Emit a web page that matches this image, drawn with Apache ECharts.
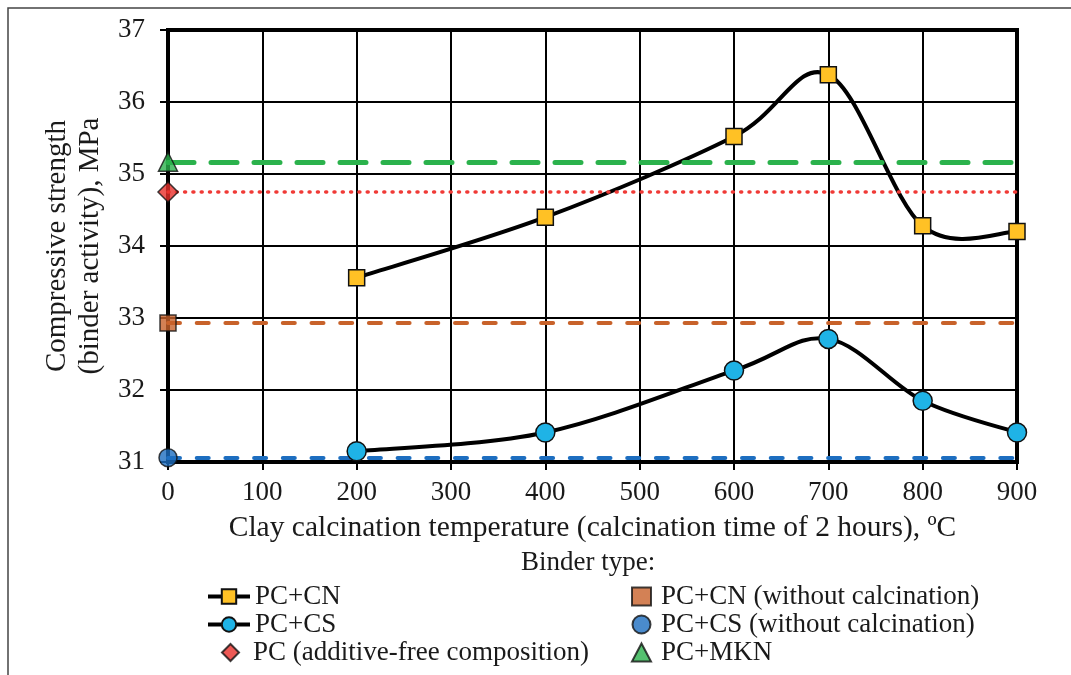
<!DOCTYPE html>
<html>
<head>
<meta charset="utf-8">
<script src="https://cdn.jsdelivr.net/npm/echarts@6/dist/echarts.min.js"></script>
<style>
  html, body { margin: 0; padding: 0; background: #fff; }
  #chart { width: 1071px; height: 675px; }
</style>
</head>
<body>
<div id="chart"></div>
<script>
// calcination temperature, degC
const temps = [200, 400, 600, 700, 800, 900]
// compressive strength, MPa
const pcCn = [33.56, 34.4, 35.52, 36.38, 34.28, 34.2]
const pcCs = [31.15, 31.41, 32.27, 32.71, 31.85, 31.41]
// reference compositions (plotted at 0 degC)
const pcCnRaw = 32.93
const pcCsRaw = 31.06
const pcPlain = 34.75
const pcMkn = 35.17

const FONT = 'Liberation Serif'
const txt = { fontFamily: FONT, fontSize: 27, color: '#1a1a1a' }

function pairs(xs, ys) {
  return xs.map((x, i) => [x, ys[i]])
}

// excel-like smoothed curve (cardinal spline) through the points, in pixels
function splinePath(api, xs, ys) {
  const p = xs.map((x, i) => api.coord([x, ys[i]]))
  let d = 'M' + p[0][0] + ' ' + p[0][1]
  for (let i = 0; i < p.length - 1; i++) {
    const a = p[Math.max(i - 1, 0)]
    const b = p[i]
    const c = p[i + 1]
    const e = p[Math.min(i + 2, p.length - 1)]
    const c1 = [b[0] + (c[0] - a[0]) / 6, b[1] + (c[1] - a[1]) / 6]
    const c2 = [c[0] - (e[0] - b[0]) / 6, c[1] - (e[1] - b[1]) / 6]
    d += ' C' + c1.join(' ') + ' ' + c2.join(' ') + ' ' + c.join(' ')
  }
  return d
}

function curveSeries(ys) {
  return {
    type: 'custom',
    silent: true,
    z: 4,
    data: [[temps[0], ys[0]]],
    renderItem: function (params, api) {
      return {
        type: 'path',
        shape: { pathData: splinePath(api, temps, ys) },
        style: { fill: 'none', stroke: '#000', lineWidth: 4 }
      }
    }
  }
}

function markerSeries(name, ys, symbol, size, color) {
  return {
    name: name,
    type: 'line',
    symbol: symbol,
    symbolSize: size,
    z: 6,
    lineStyle: { color: '#000', width: 4, opacity: 0 },
    itemStyle: { color: color, borderColor: '#111', borderWidth: 1.5 },
    data: pairs(temps, ys)
  }
}

// single marker at x = 0 plus a horizontal reference line
function refSeries(name, value, symbol, size, color, lineStyle) {
  return {
    name: name,
    type: 'scatter',
    symbol: symbol,
    symbolSize: size,
    z: 5,
    itemStyle: { color: color, borderColor: '#111', borderWidth: 1.5 },
    data: [[0, value]],
    markLine: {
      silent: true,
      symbol: 'none',
      label: { show: false },
      lineStyle: lineStyle,
      data: [{ yAxis: value }]
    }
  }
}

const legendText = Object.assign({ lineHeight: 27 }, txt)

const chart = echarts.init(document.getElementById('chart'))

chart.setOption({
  backgroundColor: '#fff',
  animation: false,
  graphic: [{
    type: 'rect',
    shape: { x: 8, y: 8, width: 1100, height: 700 },
    style: { fill: 'none', stroke: '#444', lineWidth: 1.5 }
  }, {
    type: 'text',
    left: 521,
    top: 549,
    style: { text: 'Binder type:', font: '27px "Liberation Serif"', fill: '#1a1a1a' }
  }],
  grid: {
    left: 168, top: 30, right: 54, bottom: 213,
    show: true, borderColor: '#000', borderWidth: 4, backgroundColor: 'transparent'
  },
  legend: [{
    data: ['PC+CN', 'PC+CS'],
    orient: 'vertical',
    left: 201, top: 578,
    itemGap: 1, itemWidth: 42, itemHeight: 18,
    lineStyle: { color: '#000', width: 4, opacity: 1 },
    textStyle: legendText
  }, {
    data: ['PC (additive-free composition)'],
    orient: 'vertical',
    left: 216, top: 634,
    itemWidth: 17, itemHeight: 17,
    textStyle: Object.assign({ padding: [0, 0, 0, 9] }, legendText)
  }, {
    data: ['PC+CN (without calcination)', 'PC+CS (without calcination)', 'PC+MKN'],
    orient: 'vertical',
    left: 626, top: 578,
    itemGap: 1, itemWidth: 19, itemHeight: 18,
    textStyle: Object.assign({ padding: [0, 0, 0, 5] }, legendText)
  }],
  xAxis: {
    type: 'value',
    min: 0, max: 900, interval: 100,
    name: 'Clay calcination temperature (calcination time of 2 hours), ºC',
    nameLocation: 'middle',
    nameGap: 51,
    nameTextStyle: Object.assign({}, txt, { fontSize: 29.5 }),
    axisLine: { lineStyle: { color: '#000', width: 4 } },
    axisTick: { show: true, length: 8, lineStyle: { color: '#000', width: 2 } },
    axisLabel: Object.assign({ margin: 17 }, txt),
    splitLine: { show: true, lineStyle: { color: '#000', width: 2 } }
  },
  yAxis: {
    type: 'value',
    min: 31, max: 37, interval: 1,
    name: 'Compressive strength\n(binder activity), MPa',
    nameLocation: 'middle',
    nameRotate: 90,
    nameGap: 51,
    nameTextStyle: Object.assign({}, txt, { fontSize: 29, lineHeight: 33 }),
    axisLine: { lineStyle: { color: '#000', width: 4 } },
    axisTick: { show: true, length: 8, lineStyle: { color: '#000', width: 2 } },
    axisLabel: Object.assign({ margin: 23 }, txt),
    splitLine: { show: true, lineStyle: { color: '#000', width: 2 } }
  },
  series: [
    curveSeries(pcCn),
    curveSeries(pcCs),
    markerSeries('PC+CN', pcCn, 'rect', 16, '#ffc125'),
    markerSeries('PC+CS', pcCs, 'circle', 19, '#1fb3e6'),
    refSeries('PC (additive-free composition)', pcPlain, 'diamond', 20, '#e8302b',
      { color: '#f03a36', width: 3.5, type: [1, 7.3], cap: 'round' }),
    refSeries('PC+CN (without calcination)', pcCnRaw, 'rect', 16, '#c8622a',
      { color: '#c8622a', width: 4, type: [12, 16.7], cap: 'round' }),
    refSeries('PC+CS (without calcination)', pcCsRaw, 'circle', 18, '#1d6ec0',
      { color: '#1d6ec0', width: 4, type: [12, 16.7], cap: 'round' }),
    refSeries('PC+MKN', pcMkn, 'triangle', 19, '#2bb24c',
      { color: '#2bb24c', width: 5, type: [26, 17], cap: 'round' })
  ]
})
</script>
</body>
</html>
